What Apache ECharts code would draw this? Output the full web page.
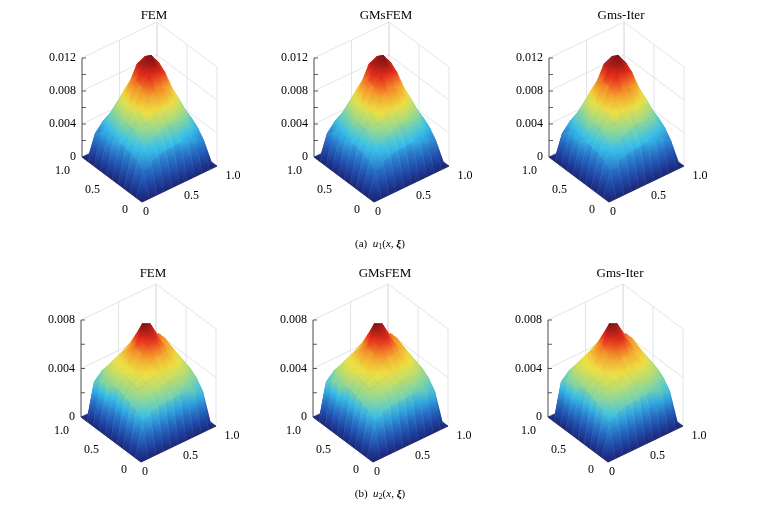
<!doctype html>
<html>
<head>
<meta charset="utf-8">
<title>u surfaces</title>
<script src="https://cdn.jsdelivr.net/npm/echarts@6/dist/echarts.min.js"></script>
</head>
<body style="margin:0">
<div id="JS_main" style="width:757px;height:512px;"></div>
<script type="text/javascript">
// surface values, rows = y (0..1 step 0.1), cols = x (0..1 step 0.1)
var u1 = [
 [0,0,0,0,0,0,0,0,0,0,0],
 [0,.0028,.0035,.0038,.0040,.0041,.0041,.0040,.0037,.0030,0],
 [0,.0035,.0048,.0054,.0057,.0059,.0059,.0057,.0052,.0040,0],
 [0,.0038,.0054,.0064,.0070,.0074,.0074,.0070,.0062,.0046,0],
 [0,.0040,.0057,.0070,.0085,.0092,.0090,.0082,.0070,.0050,0],
 [0,.0041,.0059,.0074,.0094,.0110,.0112,.0100,.0076,.0053,0],
 [0,.0041,.0059,.0075,.0096,.0115,.0119,.0106,.0080,.0054,0],
 [0,.0040,.0057,.0072,.0090,.0108,.0112,.0100,.0076,.0051,0],
 [0,.0037,.0052,.0063,.0074,.0084,.0086,.0078,.0064,.0044,0],
 [0,.0030,.0040,.0046,.0050,.0053,.0053,.0050,.0044,.0033,0],
 [0,0,0,0,0,0,0,0,0,0,0]
];
var u2 = [
 [0,0,0,0,0,0,0,0,0,0,0],
 [0,.0026,.0031,.0033,.0034,.0034,.0034,.0034,.0033,.0028,0],
 [0,.0032,.0038,.0041,.0042,.0043,.0043,.0042,.0041,.0035,0],
 [0,.0035,.0042,.0045,.0046,.0047,.0047,.0047,.0046,.0039,0],
 [0,.0036,.0044,.0047,.0050,.0056,.0056,.0052,.0049,.0041,0],
 [0,.0037,.0045,.0048,.0058,.0070,.0068,.0058,.0053,.0043,0],
 [0,.0038,.0046,.0050,.0062,.0077,.0074,.0062,.0056,.0045,0],
 [0,.0038,.0046,.0049,.0056,.0065,.0064,.0058,.0056,.0045,0],
 [0,.0036,.0044,.0047,.0050,.0054,.0054,.0053,.0050,.0041,0],
 [0,.0030,.0036,.0038,.0040,.0041,.0041,.0040,.0038,.0032,0],
 [0,0,0,0,0,0,0,0,0,0,0]
];
var jet = ['#1b2370','#1f47a8','#2a7acb','#37c0ea','#92d894','#efe142','#f5972a','#e52b1c','#7a1212'];

var rows = [
  {table: u1, zmax: 0.012, cmax: 0.0119, zstep: 0.004, top: 22, h: 99, left: 82, ticks: ['0','0.004','0.008','0.012']},
  {table: u2, zmax: 0.008, cmax: 0.0077, zstep: 0.004, top: 284, h: 97, left: 81, ticks: ['0','0.004','0.008']}
];
var names = ['FEM', 'GMsFEM', 'Gms-Iter'];
var offsets = [0, 232, 467];
var R = [75, 36], L = [-60, 45]; // screen offsets of x=1 and y=1 corners from the front corner

function proj(r, x, y, z) {
  return [x * R[0] + y * L[0], x * R[1] + y * L[1] + z / r.zmax * r.h];
}
function zcol(r, z) {
  return echarts.color.lerp(Math.max(0, Math.min(1, z / r.cmax)), jet);
}

var grids = [], xAxes = [], yAxes = [], series = [], titles = [];
var cells = [];
for (var j = 0; j < 10; j++) for (var i = 0; i < 10; i++) cells.push([i, j]);
cells.sort(function (a, b) { return (b[0] + b[1]) - (a[0] + a[1]); });

rows.forEach(function (r, ri) {
  offsets.forEach(function (off, ci) {
    var k = grids.length;
    grids.push({left: r.left + off, top: r.top, width: 135, height: 81 + r.h});
    xAxes.push({gridIndex: k, type: 'value', min: -60, max: 75, show: false});
    yAxes.push({gridIndex: k, type: 'value', min: 0, max: 81 + r.h, show: false});
    titles.push({text: names[ci], left: r.left + off + 67, top: r.top - (ri ? 22 : 18), textAlign: 'center',
      textStyle: {fontFamily: 'Liberation Serif', fontSize: 13, fontWeight: 'normal', color: '#000'}});

    // frame: back walls, grid lines, z axis and its ticks
    var segs = [];
    var nz = Math.round(r.zmax / r.zstep);
    for (var t = 0; t <= nz; t++) {
      var z = t * r.zstep;
      segs.push([0, 1, z, 1, 1, z, '#ddd']);
      segs.push([1, 1, z, 1, 0, z, '#ddd']);
    }
    [0, 0.5, 1].forEach(function (s) {
      segs.push([s, 1, 0, s, 1, r.zmax, '#ddd']);
      segs.push([1, s, 0, 1, s, r.zmax, '#ddd']);
    });
    segs.push([0, 1, 0, 0, 1, r.zmax, '#333']);
    segs.push([0, 0, 0, 0, 1, 0, '#333']);
    segs.push([0, 0, 0, 1, 0, 0, '#333']);
    for (var m = 0; m <= nz * 2; m++) segs.push([0, 1, m * r.zstep / 2, 'tick']);
    series.push({
      type: 'custom', xAxisIndex: k, yAxisIndex: k, data: segs, silent: true,
      renderItem: function (params, api) {
        var d = segs[params.dataIndex];
        var a = api.coord(proj(r, d[0], d[1], d[2]));
        if (d[3] === 'tick') {
          return {type: 'line', shape: {x1: a[0], y1: a[1], x2: a[0] + 4, y2: a[1]}, style: {stroke: '#333', lineWidth: 0.8}};
        }
        var b = api.coord(proj(r, d[3], d[4], d[5]));
        return {type: 'line', shape: {x1: a[0], y1: a[1], x2: b[0], y2: b[1]}, style: {stroke: d[6], lineWidth: 0.8}};
      }
    });

    // surface, back cells first
    series.push({
      type: 'custom', xAxisIndex: k, yAxisIndex: k, data: cells, silent: true,
      renderItem: function (params, api) {
        var c = cells[params.dataIndex], ii = c[0], jj = c[1], T = r.table;
        var zs = [T[jj][ii], T[jj][ii + 1], T[jj + 1][ii + 1], T[jj + 1][ii]];
        var pts = [[ii, jj], [ii + 1, jj], [ii + 1, jj + 1], [ii, jj + 1]].map(function (p, q) {
          return api.coord(proj(r, p[0] / 10, p[1] / 10, zs[q]));
        });
        var lo = 0, hi = 0;
        for (var q = 1; q < 4; q++) { if (zs[q] < zs[lo]) lo = q; if (zs[q] > zs[hi]) hi = q; }
        var fill;
        if (zs[hi] - zs[lo] < 1e-6) {
          fill = zcol(r, zs[hi]);
        } else {
          var stops = [];
          for (var s = 0; s <= 4; s++) stops.push({offset: s / 4, color: zcol(r, zs[lo] + (zs[hi] - zs[lo]) * s / 4)});
          fill = new echarts.graphic.LinearGradient(pts[lo][0], pts[lo][1], pts[hi][0], pts[hi][1], stops, true);
        }
        return {type: 'polygon', shape: {points: pts}, style: {fill: fill, stroke: fill, lineWidth: 0.6}};
      }
    });

    // tick labels
    var labs = [];
    r.ticks.forEach(function (s, t) { labs.push([0, 1, t * r.zstep, s, -6, 0, 'right']); });
    labs.push([0, 1, 0, '1.0', -12, 14, 'right']);
    labs.push([0, 0.5, 0, '0.5', -12, 10, 'right']);
    labs.push([0, 0, 0, '0', -14, 8, 'right']);
    labs.push([0, 0, 0, '0', 4, 10, 'center']);
    labs.push([0.5, 0, 0, '0.5', 12, 12, 'center']);
    labs.push([1, 0, 0, '1.0', 16, 10, 'center']);
    series.push({
      type: 'custom', xAxisIndex: k, yAxisIndex: k, data: labs, silent: true,
      renderItem: function (params, api) {
        var d = labs[params.dataIndex];
        var p = api.coord(proj(r, d[0], d[1], d[2]));
        return {type: 'text', x: p[0] + d[4], y: p[1] + d[5], style: {text: d[3], align: d[6], verticalAlign: 'middle',
          fontFamily: 'Liberation Serif', fontSize: 12, fill: '#000'}};
      }
    });
  });
});

var capStyle = {fontFamily: 'Liberation Serif', fontSize: 11, color: '#000', fontWeight: 'normal',
  rich: {i: {fontStyle: 'italic', fontFamily: 'Liberation Serif', fontSize: 11},
         s: {fontFamily: 'Liberation Serif', fontSize: 8, verticalAlign: 'bottom', padding: [6, 0, 0, 0]},
         b: {fontStyle: 'italic', fontWeight: 'bold', fontFamily: 'Liberation Serif', fontSize: 11}}};
titles.push({text: '(a)  {i|u}{s|1}({i|x}, {b|ξ})', left: 375, top: 232, textAlign: 'center', textStyle: capStyle});
titles.push({text: '(b)  {i|u}{s|2}({i|x}, {b|ξ})', left: 375, top: 482, textAlign: 'center', textStyle: capStyle});

var myChart = echarts.init(document.getElementById('JS_main'));
myChart.setOption({
  animation: false,
  backgroundColor: '#fff',
  title: titles,
  grid: grids,
  xAxis: xAxes,
  yAxis: yAxes,
  series: series
});
</script>
</body>
</html>
